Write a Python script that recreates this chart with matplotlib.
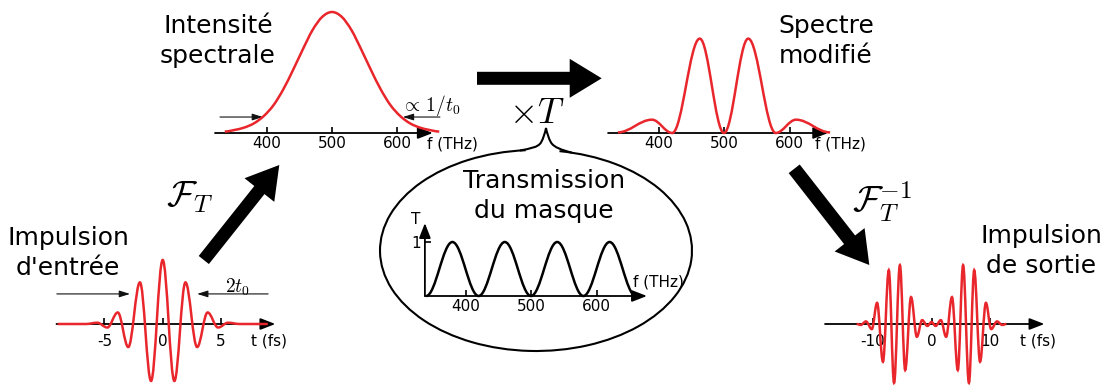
import numpy as np
import matplotlib
matplotlib.use("Agg")
import matplotlib.pyplot as plt
from matplotlib.path import Path
from matplotlib.patches import PathPatch, FancyArrow, Arc

plt.rcParams['font.family'] = ['DejaVu Sans']
plt.rcParams['mathtext.fontset'] = 'cm'

W, H = 1110, 385
RED = '#e8262b'

# input pulse: field extrema (t in fs, field normalised)
t_in = [-9.0, -6.6, -5.6, -4.75, -3.85, -2.95, -1.95, -1.0, 0.0,
        1.0, 1.95, 2.95, 3.85, 4.75, 5.6, 6.6, 9.0]
e_in = [0, 0, 0.02, -0.055, 0.18, -0.36, 0.65, -0.89, 1.0,
        -0.89, 0.65, -0.36, 0.18, -0.055, 0.02, 0, 0]

# spectral intensity (f in THz)
f_spec = [335, 350, 365, 380, 395, 410, 425, 440, 455, 470, 485, 500,
          515, 530, 545, 560, 575, 590, 605, 620, 635, 650, 665]
i_spec = [0.012, 0.025, 0.045, 0.08, 0.14, 0.23, 0.36, 0.52, 0.69, 0.85, 0.96, 1.0,
          0.96, 0.85, 0.69, 0.52, 0.36, 0.23, 0.14, 0.08, 0.045, 0.025, 0.012]

# mask transmission (extrema)
f_mask = [340, 380, 420, 460, 500, 540, 580, 620, 660]
T_mask = [0, 1, 0, 1, 0, 1, 0, 1, 0]

# modified spectrum (extrema)
f_mod = [338, 390, 421, 463, 500, 537, 579, 610, 662]
i_mod = [0.005, 0.11, 0.0, 0.78, 0.0, 0.78, 0.0, 0.11, 0.005]

# output pulse extrema
t_out = [-12.8, -12.1, -11.2, -10.2, -9.3, -8.3, -7.3, -6.4, -5.4, -4.5, -3.5, -2.5,
         -1.6, -0.7, 0.0, 0.7, 1.6, 2.5, 3.5, 4.5, 5.4, 6.4, 7.3, 8.3, 9.3, 10.2,
         11.2, 12.1, 12.8]
e_out = [0, -0.015, 0.04, -0.08, 0.33, -0.59, 0.84, -0.92, 0.92, -0.72, 0.42, -0.2,
         0.06, -0.03, 0.03, -0.03, 0.06, -0.2, 0.42, -0.72, 0.92, -0.92, 0.84, -0.59,
         0.33, -0.08, 0.04, -0.015, 0]

t_ticks = [-5, 0, 5]
t_ticks_out = [-10, 0, 10]
f_ticks = [400, 500, 600]


def smooth(ax, xs, ys, flat=False, **kw):
    # bezier path through the read points; flat=True -> points are extrema
    p = np.column_stack([xs, ys]).astype(float)
    n = len(p)
    verts = [p[0]]
    codes = [Path.MOVETO]
    for i in range(n - 1):
        a, b = p[i], p[i + 1]
        dx = b[0] - a[0]
        if flat:
            c1 = a + np.array([dx * 0.364, 0])
            c2 = b - np.array([dx * 0.364, 0])
        else:
            c1 = a + (b - p[i - 1]) / 6 if i > 0 else a + np.array([dx / 3, 0])
            c2 = b - (p[i + 2] - a) / 6 if i < n - 2 else b - np.array([dx / 3, 0])
        verts += [c1, c2, b]
        codes += [Path.CURVE4] * 3
    ax.add_patch(PathPatch(Path(verts, codes), fill=False, **kw))


def panel(xlim, px, ylim, py):
    ax = fig.add_axes([px[0] / W, 1 - py[0] / H, (px[1] - px[0]) / W, (py[0] - py[1]) / H])
    ax.set_xlim(*xlim)
    ax.set_ylim(*ylim)
    ax.patch.set_visible(False)
    for s in ax.spines.values():
        s.set_visible(False)
    ax.spines['bottom'].set_position(('data', 0))
    ax.set_yticks([])
    return ax


def axis_arrow(ax, start, tip, vertical=False, at=0):
    if vertical:
        xy, xyt = (at, tip), (at, start)
    else:
        xy, xyt = (tip, at), (start, at)
    ax.annotate('', xy=xy, xytext=xyt, annotation_clip=False, zorder=3,
                arrowprops=dict(arrowstyle='-|>,head_length=0.9,head_width=0.35', color='k',
                                lw=1.3, shrinkA=0, shrinkB=0, mutation_scale=10))


def thin_arrow(ax, x0, x1, y):
    ax.annotate('', xy=(x1, y), xytext=(x0, y), annotation_clip=False,
                arrowprops=dict(arrowstyle='-|>,head_length=0.8,head_width=0.25', color='#111111',
                                lw=0.8, shrinkA=0, shrinkB=0, mutation_scale=8))


def xticks(ax, ticks, pad):
    ax.set_xticks(ticks, [str(v) for v in ticks])
    ax.tick_params(axis='x', direction='in', length=4, width=1.2, labelsize=11, pad=pad)


fig = plt.figure(figsize=(W / 100, H / 100), dpi=100)

# overlay in pixel coordinates for arrows, bubble and titles
ov = fig.add_axes([0, 0, 1, 1])
ov.set_xlim(0, W)
ov.set_ylim(H, 0)
ov.axis('off')

# input pulse
ax1 = panel((-10, 10), (46.0, 279.4), (-1.3, 1.3), (407.2, 240.8))
axis_arrow(ax1, -9.1, 9.65)
xticks(ax1, t_ticks, 7.2)
smooth(ax1, t_in, e_in, flat=True, color=RED, lw=1.8, zorder=4)
ax1.text(7.54, -0.266, 't (fs)', fontsize=11, ha='left', va='center')
thin_arrow(ax1, -9.07, -2.8, 0.47)
thin_arrow(ax1, 9.03, 2.95, 0.47)
ax1.text(6.37, 0.58, r'$2t_0$', fontsize=14, ha='center', va='center')

# spectral intensity
ax2 = panel((300, 700), (202, 462), (-0.3, 1.2), (169.3, -12.2))
axis_arrow(ax2, 320, 655)
xticks(ax2, f_ticks, 2.5)
smooth(ax2, f_spec, i_spec, color=RED, lw=1.8, zorder=4)
ax2.text(645.7, -0.095, 'f (THz)', fontsize=11, ha='left', va='center')
thin_arrow(ax2, 327.7, 393.8, 0.132)
thin_arrow(ax2, 666, 609, 0.132)
ax2.text(651.5, 0.227, r'$\propto\,1/t_0$', fontsize=14, ha='center', va='center')

# mask transmission
ax3 = panel((300, 700), (400, 662), (-0.5, 1.5), (323, 215))
axis_arrow(ax3, 338, 677)
axis_arrow(ax3, 0, 1.35, vertical=True, at=338)
xticks(ax3, f_ticks, 2.5)
ax3.spines['left'].set_position(('data', 338))
ax3.set_yticks([1], ['1'])
ax3.tick_params(axis='y', direction='in', length=4, width=1.2, labelsize=11, pad=3)
smooth(ax3, f_mask, T_mask, flat=True, color='k', lw=1.8, zorder=4)
ax3.text(655.6, 0.265, 'f (THz)', fontsize=11, ha='left', va='center')
ax3.text(324, 1.41, 'T', fontsize=11, ha='center', va='center')

# modified spectrum
ax4 = panel((300, 700), (593, 855), (-0.3, 1.2), (169.3, -12.2))
axis_arrow(ax4, 323, 659)
xticks(ax4, f_ticks, 2.5)
smooth(ax4, f_mod, i_mod, flat=True, color=RED, lw=1.8, zorder=4)
ax4.text(639, -0.095, 'f (THz)', fontsize=11, ha='left', va='center')

# output pulse
ax5 = panel((-20, 20), (814.5, 1048.5), (-1.3, 1.3), (407.2, 240.8))
axis_arrow(ax5, -18.2, 19.3)
xticks(ax5, t_ticks_out, 7.2)
smooth(ax5, t_out, e_out, flat=True, color=RED, lw=1.8, zorder=4)
ax5.text(15.1, -0.266, 't (fs)', fontsize=11, ha='left', va='center')

# big arrows
ov.add_patch(FancyArrow(203.8, 260, 75.5, -95, width=13, head_width=38, head_length=32,
                        length_includes_head=True, color='k', lw=0))
ov.add_patch(FancyArrow(477, 78.3, 124.7, 0, width=13, head_width=39, head_length=32,
                        length_includes_head=True, color='k', lw=0))
ov.add_patch(FancyArrow(794.2, 168.8, 75.1, 96.2, width=14, head_width=38, head_length=32,
                        length_includes_head=True, color='k', lw=0))

# bubble with brace
ov.add_patch(Arc((536, 250.5), 312, 201, theta1=283.3, theta2=264.1, color='k', lw=1.5))
brace = [(520, 150.5), (530, 148.5), (538, 147.5), (541, 142.5),
         (543.5, 138), (545, 133), (546, 128),
         (547, 133), (548.5, 138), (551, 142.5),
         (554, 147.5), (562, 150), (571.9, 152.7)]
ov.add_patch(PathPatch(Path(brace, [Path.MOVETO] + [Path.CURVE4] * 12), fill=False, lw=1.5, color='k'))

# labels
big = 18
ov.text(68, 245, 'Impulsion', fontsize=big, ha='center', va='baseline')
ov.text(68, 275, "d'entrée", fontsize=big, ha='center', va='baseline')
ov.text(218, 33, 'Intensité', fontsize=big, ha='center', va='baseline')
ov.text(218, 63, 'spectrale', fontsize=big, ha='center', va='baseline')
ov.text(826, 33, 'Spectre', fontsize=big, ha='center', va='baseline')
ov.text(826, 63, 'modifié', fontsize=big, ha='center', va='baseline')
ov.text(544, 188, 'Transmission', fontsize=big, ha='center', va='baseline')
ov.text(544, 218, 'du masque', fontsize=big, ha='center', va='baseline')
ov.text(1041, 243, 'Impulsion', fontsize=big, ha='center', va='baseline')
ov.text(1041, 273, 'de sortie', fontsize=big, ha='center', va='baseline')
ov.text(537, 123, r'$\times T$', fontsize=26, ha='center', va='baseline')
ov.text(190, 197, r'$\mathcal{F}_T$', fontsize=26, ha='center', va='center')
ov.text(882, 202, r'$\mathcal{F}_T^{-1}$', fontsize=26, ha='center', va='center')

fig.savefig('out.png', dpi=100)
